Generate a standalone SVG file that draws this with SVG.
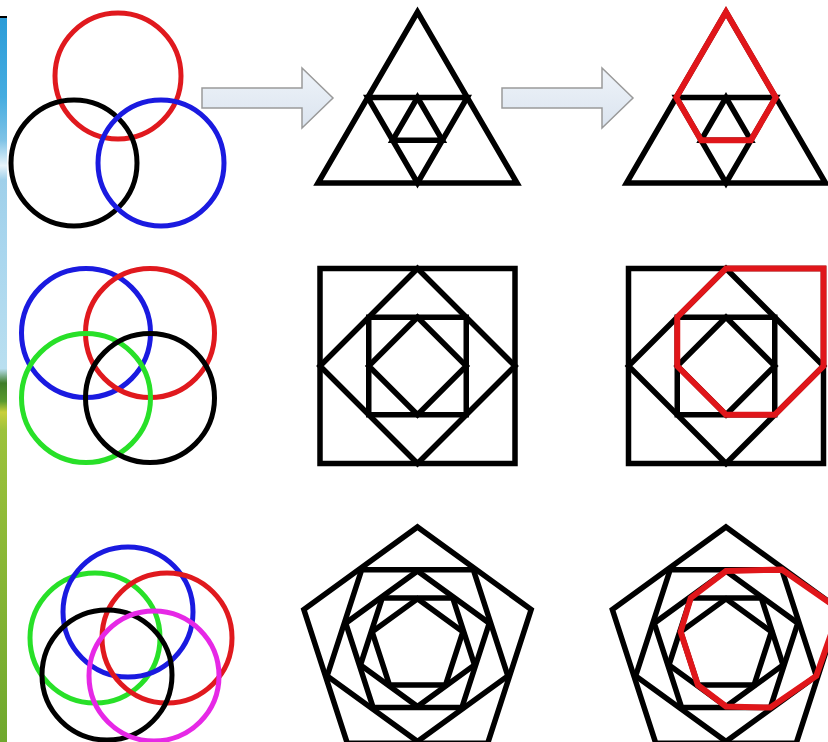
<svg xmlns="http://www.w3.org/2000/svg" width="828" height="742" viewBox="0 0 828 742">
<defs>
<linearGradient id="strip" x1="0" y1="17" x2="0" y2="742" gradientUnits="userSpaceOnUse">
<stop offset="0" stop-color="#2b9cd8"/>
<stop offset="0.11" stop-color="#45ace0"/>
<stop offset="0.17" stop-color="#7fc3e6"/>
<stop offset="0.205" stop-color="#e8f4fa"/>
<stop offset="0.225" stop-color="#9fd0ea"/>
<stop offset="0.32" stop-color="#a9d6ee"/>
<stop offset="0.485" stop-color="#b9dff0"/>
<stop offset="0.505" stop-color="#3f7d2a"/>
<stop offset="0.53" stop-color="#5a9a2e"/>
<stop offset="0.545" stop-color="#c8cf3a"/>
<stop offset="0.57" stop-color="#9cc23c"/>
<stop offset="1" stop-color="#6fa82e"/>
</linearGradient>
<linearGradient id="arrowFill" x1="0" y1="0" x2="0" y2="1">
<stop offset="0" stop-color="#eef3f9"/>
<stop offset="1" stop-color="#dbe4ef"/>
</linearGradient>
<style>
.c{fill:none;stroke-width:5}
.k{fill:none;stroke:#000;stroke-width:5.5;stroke-linejoin:miter}
.r{fill:none;stroke:#e0161a;stroke-width:6;stroke-linejoin:miter}
.arr{fill:url(#arrowFill);stroke:#9a9a9a;stroke-width:1.5}
</style>
</defs>
<rect width="828" height="742" fill="#ffffff"/>
<g id="background-strip">
<rect x="0" y="17" width="7" height="725" fill="url(#strip)"/>
<line x1="0" y1="17" x2="7" y2="17" stroke="#000" stroke-width="2"/>
</g>

<g id="circles-3">
<circle class="c" cx="118" cy="76" r="63" stroke="#e0191e"/>
<circle class="c" cx="74" cy="163" r="63" stroke="#000"/>
<circle class="c" cx="161" cy="163" r="63" stroke="#1a1ae0"/>
</g>
<g id="circles-4">
<circle class="c" cx="86" cy="333" r="64.5" stroke="#1a1ae0"/>
<circle class="c" cx="150" cy="333" r="64.5" stroke="#e0191e"/>
<circle class="c" cx="86" cy="398" r="64.5" stroke="#28e028"/>
<circle class="c" cx="150" cy="398" r="64.5" stroke="#000"/>
</g>
<g id="circles-5">
<circle class="c" cx="95" cy="638" r="65" stroke="#28e028"/>
<circle class="c" cx="128" cy="612" r="65" stroke="#1a1ae0"/>
<circle class="c" cx="167" cy="638" r="65" stroke="#e0191e"/>
<circle class="c" cx="107" cy="675" r="65" stroke="#000"/>
<circle class="c" cx="154" cy="676" r="65" stroke="#e628e6"/>
</g>

<g id="connectors">
<polygon class="arr" points="202,88 302,88 302,68 333,98 302,128 302,108 202,108"/>
<polygon class="arr" points="502,88 602,88 602,68 633,98 602,128 602,108 502,108"/>
</g>

<g id="triangle">
<polygon class="k" points="417.5,12 318,183 517,183"/>
<polygon class="k" points="367.75,97.5 467.25,97.5 417.5,183"/>
<polygon class="k" points="417.5,97.5 392.6,140.25 442.4,140.25"/>
</g>
<g id="triangle-path">
<polygon class="k" points="726,12 626.5,183 825.5,183"/>
<polygon class="k" points="676.25,97.5 775.75,97.5 726,183"/>
<polygon class="k" points="726,97.5 701.1,140.25 750.9,140.25"/>
<polygon class="r" points="726,12 775.75,97.5 750.9,140.25 701.1,140.25 676.25,97.5"/>
</g>

<g id="square">
<rect class="k" x="320" y="268.5" width="195" height="195"/>
<polygon class="k" points="417.5,268.5 515,366 417.5,463.5 320,366"/>
<rect class="k" x="368.75" y="317.25" width="97.5" height="97.5"/>
<polygon class="k" points="417.5,317.25 466.25,366 417.5,414.75 368.75,366"/>
</g>
<g id="square-path">
<rect class="k" x="628.5" y="268.5" width="195" height="195"/>
<polygon class="k" points="726,268.5 823.5,366 726,463.5 628.5,366"/>
<rect class="k" x="677.25" y="317.25" width="97.5" height="97.5"/>
<polygon class="k" points="726,317.25 774.75,366 726,414.75 677.25,366"/>
<polygon class="r" points="726,268.5 823.5,268.5 823.5,366 774.75,414.75 726,414.75 677.25,366 677.25,317.25"/>
</g>

<g id="pentagon">
<polygon class="k" points="417.5,527 531.15,609.57 487.74,743.18 347.26,743.18 303.85,609.57"/>
<polygon class="k" points="417.5,741.5 327.15,675.86 361.66,569.64 473.34,569.64 507.85,675.86"/>
<polygon class="k" points="417.5,571 489.3,623.17 461.88,707.58 373.12,707.58 345.7,623.17"/>
<polygon class="k" points="417.5,706.5 360.44,665.04 382.23,597.96 452.77,597.96 474.56,665.04"/>
<polygon class="k" points="417.5,598.8 462.87,631.76 445.54,685.09 389.46,685.09 372.13,631.76"/>
</g>
<g id="pentagon-path">
<polygon class="k" points="726,527 839.65,609.57 796.24,743.18 655.76,743.18 612.35,609.57"/>
<polygon class="k" points="726,741.5 635.65,675.86 670.16,569.64 781.84,569.64 816.35,675.86"/>
<polygon class="k" points="726,571 797.8,623.17 770.38,707.58 681.62,707.58 654.2,623.17"/>
<polygon class="k" points="726,706.5 668.94,665.04 690.73,597.96 761.27,597.96 783.06,665.04"/>
<polygon class="k" points="726,598.8 771.37,631.76 754.04,685.09 697.96,685.09 680.63,631.76"/>
<polygon class="r" points="726,571 781.84,569.64 839.65,609.57 816.35,675.86 770.38,707.58 726,706.5 697.96,685.09 680.63,631.76 690.73,597.96"/>
</g>
</svg>
